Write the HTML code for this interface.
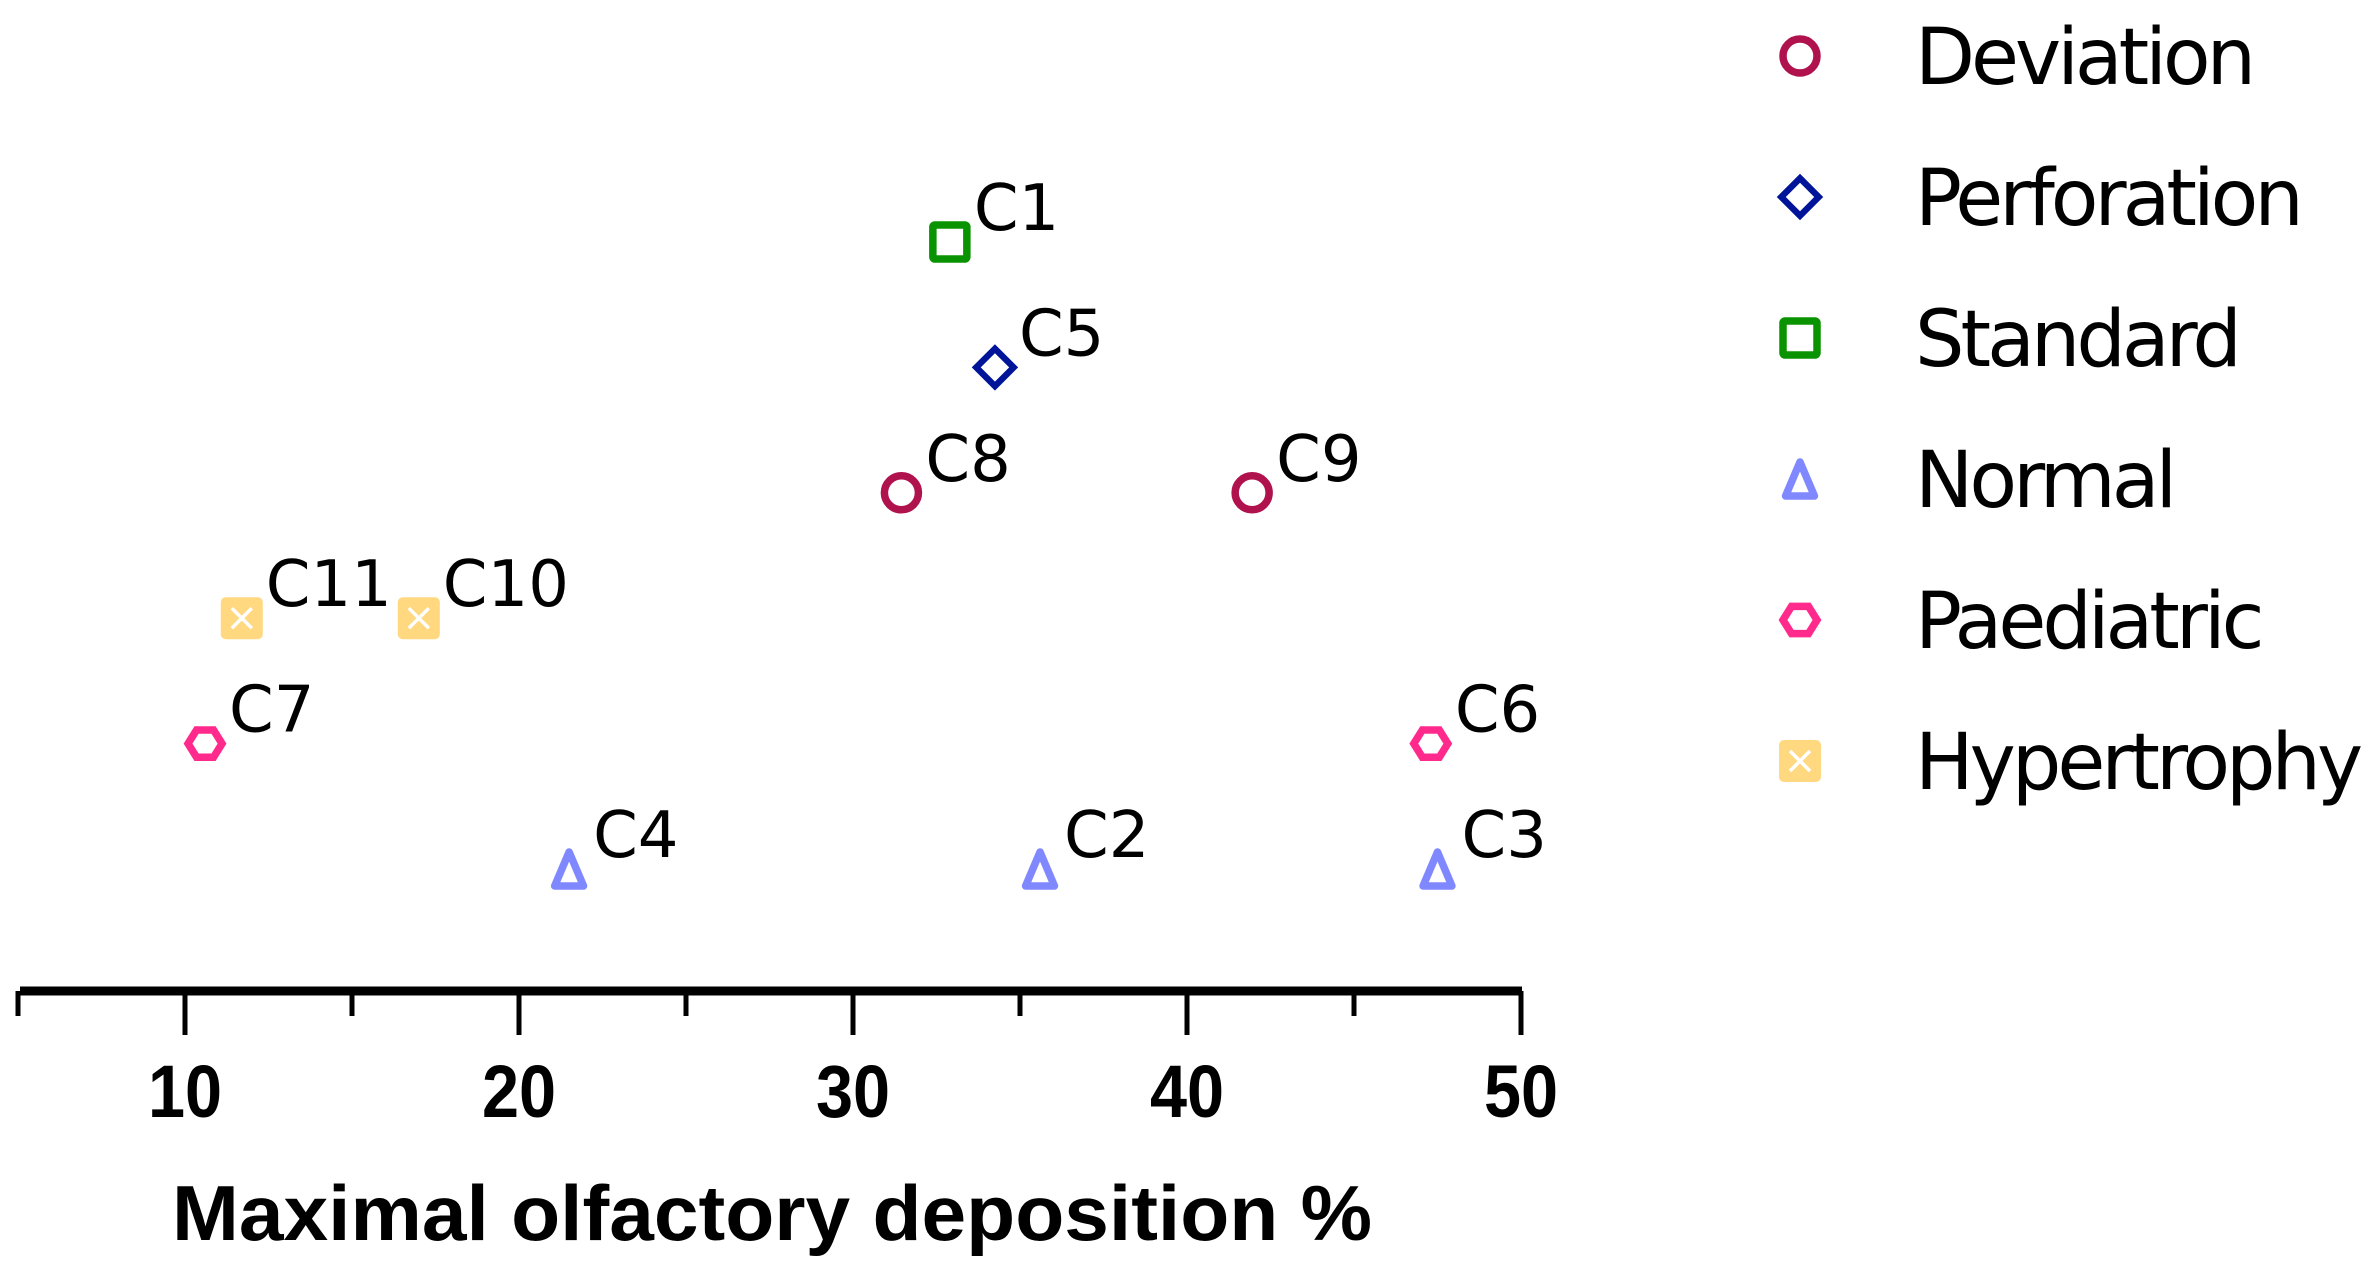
<!DOCTYPE html>
<html><head><meta charset="utf-8"><style>
html,body{margin:0;padding:0;background:#fff;}
svg{display:block;}
</style></head><body>
<svg id="chart" width="2371" height="1268" viewBox="0 0 2371 1268" xmlns="http://www.w3.org/2000/svg"></svg>
<script>
const categories = ["Normal","Paediatric","Hypertrophy","Deviation","Perforation","Standard"];
const pointLabels = ["C1","C5","C8","C9","C11","C10","C7","C6","C4","C2","C3"];
const pointValues = [32.9,34.25,31.45,41.95,11.7,17.0,10.6,47.3,21.5,35.6,47.5];
const pointCats = ["Standard","Perforation","Deviation","Deviation","Hypertrophy","Hypertrophy","Paediatric","Paediatric","Normal","Normal","Normal"];
const xTicks = [10,20,30,40,50];
const legendOrder = ["Deviation","Perforation","Standard","Normal","Paediatric","Hypertrophy"];

const NS="http://www.w3.org/2000/svg";
const svg=document.getElementById('chart');
const colors={Deviation:"#b0124e",Perforation:"#00149a",Standard:"#0a9300",Normal:"#8088ff",Paediatric:"#ff2a8c",Hypertrophy:"#ffd880"};
function xScale(v){return 185+(v-10)*33.4;}
function yScale(c){return 869-categories.indexOf(c)*125.4;}
function mk(tag,attrs){const e=document.createElementNS(NS,tag);for(const k in attrs)e.setAttribute(k,attrs[k]);return e;}

function marker(cat,cx,cy,s){
  const g=mk('g',{});
  const c=colors[cat];const sw=7.5*s;const r=17*s;
  let e;
  if(cat==="Deviation"){e=mk('circle',{cx:cx,cy:cy,r:r,fill:'none',stroke:c,'stroke-width':sw});g.appendChild(e);}
  else if(cat==="Perforation"){const rr=r*1.1;e=mk('polygon',{points:`${cx},${cy-rr} ${cx+rr},${cy} ${cx},${cy+rr} ${cx-rr},${cy}`,fill:'none',stroke:c,'stroke-width':sw*0.85,'stroke-linejoin':'miter'});g.appendChild(e);}
  else if(cat==="Standard"){e=mk('rect',{x:cx-r,y:cy-r,width:2*r,height:2*r,fill:'none',stroke:c,'stroke-width':sw,rx:2});g.appendChild(e);}
  else if(cat==="Normal"){e=mk('polygon',{points:`${cx},${cy-r} ${cx+r*0.85},${cy+r} ${cx-r*0.85},${cy+r}`,fill:'none',stroke:c,'stroke-width':sw,'stroke-linejoin':'round'});g.appendChild(e);}
  else if(cat==="Paediatric"){const h=r*0.8;e=mk('polygon',{points:`${cx-r},${cy} ${cx-r/2},${cy-h} ${cx+r/2},${cy-h} ${cx+r},${cy} ${cx+r/2},${cy+h} ${cx-r/2},${cy+h}`,fill:'none',stroke:c,'stroke-width':sw});g.appendChild(e);}
  else {e=mk('rect',{x:cx-r-4,y:cy-r-4,width:2*r+8,height:2*r+8,fill:c,rx:5});g.appendChild(e);
    const x=mk('path',{d:`M${cx-10},${cy-10}L${cx+10},${cy+10}M${cx+10},${cy-10}L${cx-10},${cy+10}`,stroke:'#fff','stroke-width':3.5});g.appendChild(x);}
  return g;
}

const axis=mk('line',{x1:20,y1:991,x2:1522,y2:991,stroke:'#000','stroke-width':9});


svg.appendChild(axis);
for(let v=5;v<=50;v+=5){
  const major=v%10===0;
  const t=mk('line',{x1:xScale(v),y1:991,x2:xScale(v),y2:major?1035:1016,stroke:'#000','stroke-width':5});
  
  
  svg.appendChild(t);
}
xTicks.forEach(v=>{
  const t=mk('text',{x:xScale(v),y:1117,'text-anchor':'middle','font-family':'Liberation Sans, sans-serif','font-weight':'bold','font-size':74,transform:`translate(${xScale(v)},0) scale(0.9,1) translate(${-xScale(v)},0)`});
  t.textContent=v;
  
  
  svg.appendChild(t);
});
const title=mk('text',{x:172,y:1240,'font-family':'Liberation Sans, sans-serif','font-weight':'bold','font-size':78,textLength:1200,lengthAdjust:'spacingAndGlyphs'});
title.textContent="Maximal olfactory deposition %";


svg.appendChild(title);

pointValues.forEach((v,i)=>{
  const cx=xScale(v),cy=yScale(pointCats[i]);
  const g=marker(pointCats[i],cx,cy,1);
  
  
  svg.appendChild(g);
  const t=mk('text',{x:cx+24,y:cy-12,'font-family':'DejaVu Sans, sans-serif','font-size':64});
  t.textContent=pointLabels[i];
  
  
  svg.appendChild(t);
});

legendOrder.forEach((c,i)=>{
  const y=56+i*141;
  const g=marker(c,1800,y,1);
  
  
  svg.appendChild(g);
  const t=mk('text',{x:1915,y:y+28,'font-family':'DejaVu Sans, sans-serif','font-size':78,'letter-spacing':-4});
  t.textContent=c;
  
  
  svg.appendChild(t);
});
</script>
</body></html>
